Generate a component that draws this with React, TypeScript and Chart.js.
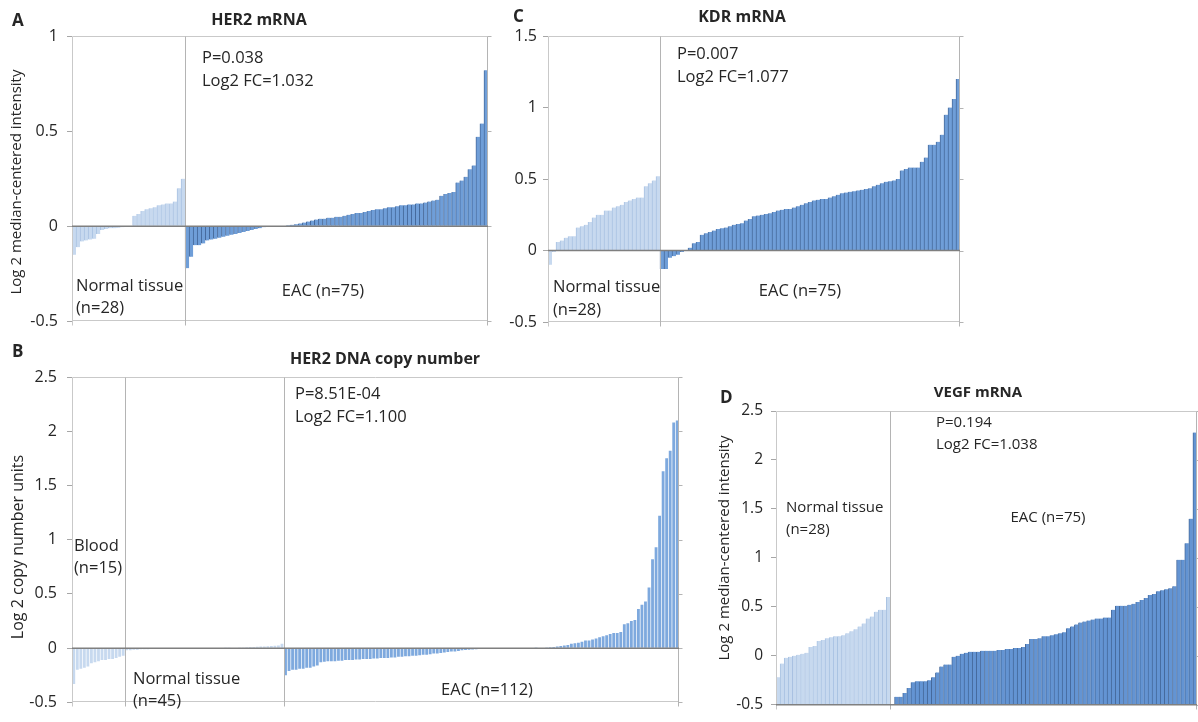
import React, { useEffect, useRef } from 'react';
import { Chart, registerables } from 'chart.js';
Chart.register(...registerables);

const FONT = '"Open Sans", "DejaVu Sans", sans-serif';
const TEXT = '#262626';

// ---------- data (A: HER2 mRNA) ----------
const her2MrnaNormal = [-0.15, -0.11, -0.08, -0.075, -0.07, -0.065, -0.04, -0.02, -0.015, -0.01, -0.01, -0.008, -0.005, -0.003, 0,
  0.055, 0.065, 0.08, 0.09, 0.095, 0.1, 0.11, 0.115, 0.12, 0.12, 0.13, 0.2, 0.25];
const her2MrnaEAC = [-0.22, -0.16, -0.1, -0.1, -0.09, -0.075, -0.07, -0.065, -0.06, -0.055,
  -0.05, -0.045, -0.04, -0.035, -0.03, -0.025, -0.02, -0.015, -0.01, -0.005,
  -0.003, 0, 0, 0, 0.003, 0.005, 0.008, 0.01, 0.015, 0.02,
  0.025, 0.03, 0.035, 0.04, 0.04, 0.045, 0.045, 0.05, 0.05, 0.055,
  0.06, 0.065, 0.07, 0.07, 0.075, 0.08, 0.085, 0.09, 0.09, 0.095,
  0.1, 0.1, 0.105, 0.11, 0.11, 0.115, 0.115, 0.12, 0.12, 0.125,
  0.13, 0.135, 0.14, 0.16, 0.17, 0.175, 0.18, 0.23, 0.24, 0.26,
  0.3, 0.32, 0.47, 0.54, 0.82];

// ---------- data (C: KDR mRNA) ----------
const kdrNormal = [-0.1, -0.01, 0.06, 0.07, 0.09, 0.1, 0.1, 0.16, 0.17, 0.18, 0.2, 0.23, 0.25, 0.25, 0.28, 0.28, 0.3, 0.31,
  0.32, 0.34, 0.35, 0.36, 0.37, 0.37, 0.45, 0.47, 0.49, 0.52];
const kdrEAC = [-0.13, -0.13, -0.05, -0.04, -0.03, -0.01, 0, 0.02, 0.05, 0.06,
  0.11, 0.12, 0.13, 0.14, 0.15, 0.155, 0.16, 0.17, 0.18, 0.185,
  0.19, 0.21, 0.22, 0.24, 0.245, 0.25, 0.255, 0.26, 0.27, 0.28,
  0.285, 0.29, 0.29, 0.3, 0.31, 0.32, 0.33, 0.34, 0.35, 0.355,
  0.36, 0.36, 0.37, 0.38, 0.39, 0.4, 0.405, 0.41, 0.415, 0.42,
  0.425, 0.43, 0.435, 0.45, 0.46, 0.47, 0.48, 0.485, 0.49, 0.5,
  0.56, 0.57, 0.58, 0.58, 0.58, 0.62, 0.65, 0.74, 0.74, 0.76,
  0.81, 0.95, 1.0, 1.06, 1.2];

// ---------- data (B: HER2 DNA copy number) ----------
const her2DnaBlood = [-0.33, -0.2, -0.19, -0.18, -0.17, -0.14, -0.13, -0.12, -0.11, -0.11, -0.1, -0.1, -0.09, -0.08, -0.07];
const her2DnaNormal = [-0.02, -0.02, -0.015, -0.015, -0.01, -0.01, -0.01, -0.008, -0.006, -0.005, -0.004, -0.003, -0.002, -0.002, -0.001,
  0, 0, 0, 0, 0, 0, 0, 0, 0, 0, 0, 0, 0,
  0.001, 0.002, 0.003, 0.004, 0.005, 0.006, 0.008, 0.01, 0.01, 0.012, 0.015, 0.015, 0.018, 0.02, 0.022, 0.025, 0.04];
const her2DnaEAC = [-0.25, -0.21, -0.2, -0.2, -0.19, -0.19, -0.18, -0.18, -0.17, -0.16,
  -0.13, -0.125, -0.12, -0.12, -0.12, -0.115, -0.115, -0.11, -0.11, -0.11,
  -0.105, -0.105, -0.1, -0.1, -0.1, -0.095, -0.095, -0.09, -0.09, -0.09,
  -0.085, -0.085, -0.08, -0.08, -0.075, -0.075, -0.07, -0.07, -0.065, -0.06,
  -0.06, -0.055, -0.05, -0.05, -0.045, -0.04, -0.035, -0.03, -0.03, -0.025,
  -0.02, -0.018, -0.015, -0.012, -0.01, -0.008, -0.005, -0.003,
  0, 0, 0, 0, 0, 0, 0, 0, 0, 0, 0, 0, 0,
  0.001, 0.003, 0.004, 0.005, 0.008, 0.01, 0.015, 0.02, 0.025, 0.03,
  0.04, 0.045, 0.05, 0.06, 0.07, 0.07, 0.08, 0.09, 0.1, 0.11,
  0.12, 0.13, 0.14, 0.14, 0.15, 0.22, 0.23, 0.25, 0.26, 0.36,
  0.4, 0.43, 0.56, 0.82, 0.93, 1.22, 1.63, 1.75, 1.82, 2.08,
  2.1];

// ---------- data (D: VEGF mRNA) ----------
const vegfNormal = [-0.22, -0.08, -0.02, -0.01, 0, 0.01, 0.02, 0.03, 0.09, 0.1, 0.15, 0.16, 0.18, 0.19, 0.2, 0.2, 0.21, 0.23,
  0.25, 0.27, 0.3, 0.33, 0.38, 0.4, 0.45, 0.47, 0.47, 0.6];
const vegfEAC = [-0.5, -0.42, -0.42, -0.38, -0.33, -0.27, -0.26, -0.26, -0.26, -0.25,
  -0.22, -0.17, -0.11, -0.09, -0.09, -0.01, 0, 0.02, 0.03, 0.04,
  0.04, 0.04, 0.05, 0.05, 0.05, 0.05, 0.06, 0.06, 0.07, 0.07,
  0.08, 0.08, 0.09, 0.12, 0.17, 0.17, 0.18, 0.2, 0.2, 0.21,
  0.22, 0.23, 0.24, 0.28, 0.3, 0.32, 0.34, 0.35, 0.36, 0.37,
  0.38, 0.38, 0.39, 0.39, 0.47, 0.51, 0.51, 0.51, 0.52, 0.53,
  0.55, 0.57, 0.59, 0.62, 0.63, 0.66, 0.67, 0.68, 0.69, 0.71,
  0.98, 0.98, 1.15, 1.4, 2.28];

// ---------- tick labels ----------
const yTicksA = [-0.5, 0, 0.5, 1];
const yTicksC = [-0.5, 0, 0.5, 1, 1.5];
const yTicksB = [-0.5, 0, 0.5, 1, 1.5, 2, 2.5];
const yTicksD = [-0.5, 0, 0.5, 1, 1.5, 2, 2.5];

type Txt = { t: string; x: number; y: number; align?: CanvasTextAlign; bold?: boolean; size?: number; rot?: boolean };
type Group = { values: number[]; fill: string; line: string; lineW: number };
type Panel = {
  left: number; top: number; w: number; h: number;
  area: { l: number; t: number; r: number; b: number };
  yMin: number; yMax: number; yTicks: number[]; base: number;
  groups: Group[]; tickPad: number; tickSize: number; barPct: number;
  baseColor: string; texts: Txt[];
};

const LIGHT = { fill: '#c7d9ef', line: '#a9c2e2', lineW: 1 };
const DARK = { fill: '#6f9ed8', line: '#45699b', lineW: 1 };
const MID = { fill: '#7ea9de', line: '#6a95cc', lineW: 0 };
const T1 = 16.5;

const panels: Panel[] = [
  {
    left: 0, top: 0, w: 500, h: 340,
    area: { l: 72, t: 36, r: 488, b: 323 },
    yMin: -0.5, yMax: 1, yTicks: yTicksA, base: 0,
    groups: [{ values: her2MrnaNormal, ...LIGHT }, { values: her2MrnaEAC, ...DARK }],
    tickPad: 9, tickSize: 16, barPct: 1, baseColor: '#7f7f7f',
    texts: [
      { t: 'A', x: 12, y: 21, bold: true, size: 17 },
      { t: 'HER2 mRNA', x: 259, y: 20, bold: true, size: 16, align: 'center' },
      { t: 'Log 2 median-centered intensity', x: 17, y: 182, rot: true, size: 15, align: 'center' },
      { t: 'P=0.038', x: 202, y: 58, size: T1 },
      { t: 'Log2 FC=1.032', x: 202, y: 81, size: T1 },
      { t: 'Normal tissue', x: 76, y: 286, size: T1 },
      { t: '(n=28)', x: 76, y: 308, size: T1 },
      { t: 'EAC (n=75)', x: 323, y: 291, align: 'center', size: T1 },
    ],
  },
  {
    left: 500, top: 0, w: 500, h: 340,
    area: { l: 48, t: 36, r: 460, b: 322 },
    yMin: -0.5, yMax: 1.5, yTicks: yTicksC, base: 0,
    groups: [{ values: kdrNormal, ...LIGHT }, { values: kdrEAC, ...DARK }],
    tickPad: 6, tickSize: 16, barPct: 1, baseColor: '#7f7f7f',
    texts: [
      { t: 'C', x: 13, y: 17, bold: true, size: 17 },
      { t: 'KDR mRNA', x: 242, y: 17, bold: true, size: 16, align: 'center' },
      { t: 'P=0.007', x: 177, y: 54, size: T1 },
      { t: 'Log2 FC=1.077', x: 177, y: 77, size: T1 },
      { t: 'Normal tissue', x: 53, y: 287, size: T1 },
      { t: '(n=28)', x: 53, y: 310, size: T1 },
      { t: 'EAC (n=75)', x: 300, y: 291, align: 'center', size: T1 },
    ],
  },
  {
    left: 0, top: 340, w: 700, h: 382,
    area: { l: 72, t: 37, r: 679, b: 375 },
    yMin: -0.5, yMax: 2.5, yTicks: yTicksB, base: 0,
    groups: [{ values: her2DnaBlood, ...LIGHT, lineW: 0 }, { values: her2DnaNormal, ...LIGHT, lineW: 0 }, { values: her2DnaEAC, ...MID }],
    tickPad: 10, tickSize: 16, barPct: 0.8, baseColor: '#7f7f7f',
    texts: [
      { t: 'B', x: 12, y: 12, bold: true, size: 17 },
      { t: 'HER2 DNA copy number', x: 385, y: 19, bold: true, size: 16, align: 'center' },
      { t: 'Log 2 copy number units', x: 18, y: 207, rot: true, size: 16, align: 'center' },
      { t: 'P=8.51E-04', x: 295, y: 54, size: T1 },
      { t: 'Log2 FC=1.100', x: 295, y: 77, size: T1 },
      { t: 'Blood', x: 74, y: 206, size: T1 },
      { t: '(n=15)', x: 74, y: 228, size: T1 },
      { t: 'Normal tissue', x: 133, y: 339, size: T1 },
      { t: '(n=45)', x: 133, y: 361, size: T1 },
      { t: 'EAC (n=112)', x: 487, y: 350, align: 'center', size: T1 },
    ],
  },
  {
    left: 700, top: 370, w: 498, h: 352,
    area: { l: 76, t: 41, r: 497, b: 335 },
    yMin: -0.5, yMax: 2.5, yTicks: yTicksD, base: -0.5,
    groups: [{ values: vegfNormal, ...LIGHT }, { values: vegfEAC, ...DARK, fill: '#6394d3' }],
    tickPad: 8, tickSize: 15.5, barPct: 1, baseColor: '#808080',
    texts: [
      { t: 'D', x: 20, y: 28, bold: true, size: 17 },
      { t: 'VEGF mRNA', x: 278, y: 23, bold: true, size: 15, align: 'center' },
      { t: 'Log 2 median-centered intensity', x: 25, y: 178, rot: true, size: 15, align: 'center' },
      { t: 'P=0.194', x: 236, y: 53, size: 15 },
      { t: 'Log2 FC=1.038', x: 236, y: 75, size: 15 },
      { t: 'Normal tissue', x: 86, y: 138, size: 15 },
      { t: '(n=28)', x: 86, y: 160, size: 15 },
      { t: 'EAC (n=75)', x: 348, y: 148, size: 15, align: 'center' },
    ],
  },
];

function PanelChart({ p }: { p: Panel }) {
  const ref = useRef<HTMLCanvasElement>(null);
  useEffect(() => {
    if (!ref.current) return;
    const n = p.groups.reduce((s, g) => s + g.values.length, 0);
    const labels = Array.from({ length: n }, (_, i) => String(i + 1));
    let off = 0;
    const datasets = p.groups.map((g) => {
      const data: (number | null)[] = new Array(n).fill(null);
      g.values.forEach((v, i) => { data[off + i] = v; });
      off += g.values.length;
      return {
        data,
        backgroundColor: g.fill,
        borderColor: g.line,
        borderWidth: { left: g.lineW, top: 0, right: 0, bottom: 0 },
        grouped: false,
        base: p.base,
        barPercentage: p.barPct,
        categoryPercentage: 1,
      };
    });

    const decor = {
      id: 'decor',
      afterDatasetsDraw(chart: any) {
        const { ctx, chartArea: a } = chart;
        const x = chart.scales.x, y = chart.scales.y;
        const L = Math.round(a.left) + 0.5, R = Math.round(a.right) - 0.5;
        const T = Math.round(a.top) + 0.5, B = Math.round(a.bottom) - 0.5;
        ctx.save();
        ctx.lineWidth = 1;
        ctx.strokeStyle = '#c9c9c9';
        ctx.beginPath();
        ctx.moveTo(L, T); ctx.lineTo(R, T);
        ctx.moveTo(L, B); ctx.lineTo(R, B);
        ctx.moveTo(L, T); ctx.lineTo(L, B + 5);
        ctx.stroke();
        ctx.strokeStyle = '#b4b4b4';
        ctx.beginPath();
        let idx = 0;
        p.groups.slice(0, -1).forEach((g) => {
          idx += g.values.length;
          const px = Math.round((x.getPixelForValue(idx - 1) + x.getPixelForValue(idx)) / 2) + 0.5;
          ctx.moveTo(px, T); ctx.lineTo(px, B + 5);
        });
        ctx.moveTo(R, T); ctx.lineTo(R, B + 5);
        p.yTicks.forEach((v) => {
          const py = Math.round(y.getPixelForValue(v)) + 0.5;
          ctx.moveTo(R, py); ctx.lineTo(R + 4, py);
        });
        ctx.stroke();
        const py = y.getPixelForValue(p.base);
        ctx.strokeStyle = p.baseColor;
        ctx.lineWidth = 1.5;
        ctx.beginPath();
        ctx.moveTo(a.left, py); ctx.lineTo(a.right, py);
        ctx.stroke();
        ctx.restore();
      },
      afterDraw(chart: any) {
        const ctx = chart.ctx as CanvasRenderingContext2D;
        ctx.save();
        ctx.fillStyle = TEXT;
        ctx.textBaseline = 'middle';
        p.texts.forEach((t) => {
          ctx.font = `${t.bold ? 'bold ' : ''}${t.size ?? 15}px ${FONT}`;
          ctx.textAlign = t.align ?? 'left';
          if (t.rot) {
            ctx.save();
            ctx.translate(t.x, t.y);
            ctx.rotate(-Math.PI / 2);
            ctx.fillText(t.t, 0, 0);
            ctx.restore();
          } else {
            ctx.fillText(t.t, t.x, t.y);
          }
        });
        ctx.restore();
      },
    };

    const chart = new Chart(ref.current, {
      type: 'bar',
      data: { labels, datasets: datasets as any },
      options: {
        animation: false,
        responsive: false,
        devicePixelRatio: 1,
        layout: { padding: { left: 0, top: p.area.t, right: p.w - p.area.r, bottom: p.h - p.area.b } },
        plugins: { legend: { display: false }, tooltip: { enabled: false }, title: { display: false } },
        scales: {
          x: { type: 'category', display: false, offset: true },
          y: {
            type: 'linear',
            min: p.yMin,
            max: p.yMax,
            afterBuildTicks: (s: any) => { s.ticks = p.yTicks.map((v) => ({ value: v })); },
            afterFit: (s: any) => { s.width = p.area.l; },
            ticks: {
              callback: (v: any) => String(v),
              font: { family: FONT, size: p.tickSize },
              color: TEXT,
              padding: p.tickPad,
            },
            grid: { drawOnChartArea: false, drawTicks: true, tickLength: 5, tickColor: '#a6a6a6', color: '#a6a6a6' },
            border: { display: false },
          },
        },
      },
      plugins: [decor],
    });
    return () => chart.destroy();
  }, [p]);
  return (
    <canvas
      ref={ref}
      width={p.w}
      height={p.h}
      style={{ position: 'absolute', left: p.left, top: p.top, width: p.w, height: p.h }}
    />
  );
}

export default function App() {
  return (
    <div style={{ position: 'fixed', left: 0, top: 0, width: 1198, height: 722, background: '#fff', overflow: 'hidden' }}>
      {panels.map((p, i) => <PanelChart key={i} p={p} />)}
    </div>
  );
}
